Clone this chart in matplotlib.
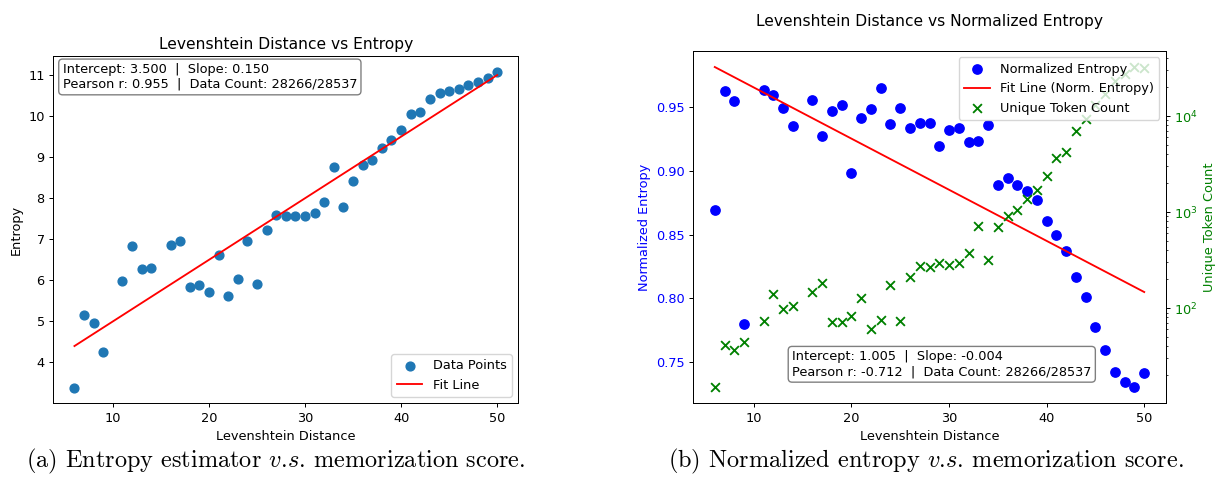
import matplotlib
matplotlib.use("Agg")
import matplotlib.pyplot as plt
import numpy as np

# ---------------- data ----------------
distances = [6, 7, 8, 9, 11, 12, 13, 14, 16, 17, 18, 19, 20, 21, 22, 23, 24, 25,
             26, 27, 28, 29, 30, 31, 32, 33, 34, 35, 36, 37, 38, 39, 40, 41, 42,
             43, 44, 45, 46, 47, 48, 49, 50]

entropy = [3.39, 5.16, 4.97, 4.26, 5.99, 6.83, 6.28, 6.30, 6.87, 6.97, 5.85, 5.88,
           5.71, 6.61, 5.63, 6.03, 6.97, 5.90, 7.22, 7.59, 7.57, 7.56, 7.57, 7.65,
           7.90, 8.77, 7.78, 8.41, 8.82, 8.93, 9.23, 9.41, 9.66, 10.06, 10.09,
           10.41, 10.57, 10.61, 10.67, 10.76, 10.84, 10.93, 11.08]

norm_entropy = [0.869, 0.9625, 0.9547, 0.780, 0.9633, 0.9591, 0.949, 0.9346, 0.9555,
                0.9273, 0.9469, 0.9513, 0.8978, 0.9411, 0.9482, 0.9646, 0.9364,
                0.9492, 0.9333, 0.9375, 0.9370, 0.9195, 0.9317, 0.9336, 0.9226,
                0.9229, 0.9359, 0.889, 0.8945, 0.8887, 0.884, 0.8767, 0.8606,
                0.8494, 0.8374, 0.8168, 0.8008, 0.7779, 0.7597, 0.7424, 0.7344,
                0.7305, 0.7419]

unique_tokens = [15, 41, 37, 44, 74, 139, 98, 106, 146, 182, 72, 72, 82, 129, 60, 76,
                 174, 74, 210, 272, 268, 295, 281, 293, 375, 723, 317, 706, 912, 1062,
                 1372, 1703, 2403, 3674, 4244, 7000, 9400, 12900, 17100, 23200, 27700,
                 32400, 31900]

fit_a = (3.500, 0.150)        # intercept, slope (entropy)
fit_b = (1.005, -0.004)       # intercept, slope (normalized entropy)
pearson_a = 0.955
pearson_b = -0.712
data_count = "28266/28537"

title_a = "Levenshtein Distance vs Entropy"
title_b = "Levenshtein Distance vs Normalized Entropy"
caption_a = r"(a) Entropy estimator $v$.$s$. memorization score."
caption_b = r"(b) Normalized entropy $v$.$s$. memorization score."

# ---------------- style ----------------
k = 0.89
kf = 0.93
fs = 10 * kf
plt.rcParams.update({
    "font.family": ["DejaVu Sans"],
    "font.size": fs,
    "axes.linewidth": 0.8 * k,
    "xtick.major.width": 0.8 * k,
    "ytick.major.width": 0.8 * k,
    "xtick.minor.width": 0.6 * k,
    "ytick.minor.width": 0.6 * k,
    "xtick.major.size": 3.5 * k,
    "ytick.major.size": 3.5 * k,
    "xtick.minor.size": 2 * k,
    "ytick.minor.size": 2 * k,
    "xtick.major.pad": 3.5 * k,
    "ytick.major.pad": 3.5 * k,
    "axes.labelpad": 4 * k,
    "lines.linewidth": 1.5 * k,
    "mathtext.fontset": "dejavusans",
})

fig = plt.figure(figsize=(12.16, 4.93), dpi=100)
W, H = 1216, 493

def place(x0, y0, x1, y1):
    return [x0 / W, 1 - y1 / H, (x1 - x0) / W, (y1 - y0) / H]

x = np.array(distances)
xfit = np.array([min(distances), max(distances)])

# ---------------- left panel ----------------
ax1 = fig.add_axes(place(53.3, 56, 518.3, 403.3))
ax1.scatter(x, entropy, s=40, color="#1f77b4", label="Data Points")
ax1.plot(xfit, fit_a[0] + fit_a[1] * xfit, color="red", label="Fit Line")
ax1.set_title(title_a, fontsize=12 * kf, pad=6 * k)
ax1.set_xlabel("Levenshtein Distance")
ax1.set_ylabel("Entropy")
ax1.legend(loc="lower right", fontsize=fs)
txt_a = (f"Intercept: {fit_a[0]:.3f}  |  Slope: {fit_a[1]:.3f}\n"
         f"Pearson r: {pearson_a:.3f}  |  Data Count: {data_count}")
ax1.text(0.02, 0.98, txt_a, transform=ax1.transAxes, va="top", ha="left",
         fontsize=fs,
         bbox=dict(boxstyle="round", facecolor="white", alpha=0.5))

# ---------------- right panel ----------------
ax2 = fig.add_axes(place(693.3, 51, 1165.7, 403.3))
h1 = ax2.scatter(x, norm_entropy, s=45, color="blue", label="Normalized Entropy")
h2, = ax2.plot(xfit, fit_b[0] + fit_b[1] * xfit, color="red",
               label="Fit Line (Norm. Entropy)")
ax2.set_xlabel("Levenshtein Distance")
ax2.set_ylabel("Normalized Entropy", color="blue")
ax2.tick_params(axis="y", labelcolor="blue")
ax2.set_title(title_b, fontsize=12 * kf, pad=18)

ax3 = ax2.twinx()
h3 = ax3.scatter(x, unique_tokens, s=40, marker="x", color="green",
                 linewidths=1.5 * k, label="Unique Token Count")
ax3.set_yscale("log")
ax3.set_ylabel("Unique Token Count", color="green")
ax3.tick_params(axis="y", labelcolor="green")
ax3.legend([h1, h2, h3], [h1.get_label(), h2.get_label(), h3.get_label()],
           loc="upper right", fontsize=fs)
txt_b = (f"Intercept: {fit_b[0]:.3f}  |  Slope: {fit_b[1]:.3f}\n"
         f"Pearson r: {pearson_b:.3f}  |  Data Count: {data_count}")
ax3.text(0.526, 0.071, txt_b, transform=ax2.transAxes, va="bottom", ha="center",
         multialignment="left", fontsize=fs,
         bbox=dict(boxstyle="round", facecolor="white", alpha=0.5))

# ---------------- captions ----------------
cap_kw = dict(fontsize=17.5, family="cmr10", va="center", ha="center",
              math_fontfamily="cm")
fig.text(276 / W, 1 - 461 / H, caption_a, **cap_kw)
fig.text(926 / W, 1 - 461 / H, caption_b, **cap_kw)

fig.savefig("out.png", dpi=100)
